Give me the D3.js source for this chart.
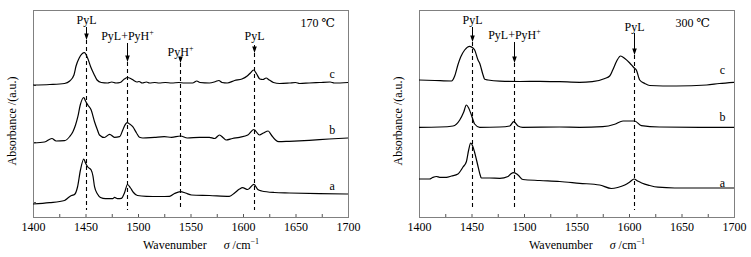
<!DOCTYPE html>
<html>
<head>
<meta charset="utf-8">
<script src="https://cdn.jsdelivr.net/npm/d3@7"></script>
<style>
  body { margin: 0; background: #fff; }
</style>
</head>
<body>
<svg id="chart" width="751" height="257" style="font-family: 'Liberation Serif', 'Times New Roman', Times, 'DejaVu Serif', serif;"></svg>
<script>
// wavenumber axis
const xDomain = [1400, 1700];
const xTicks = d3.range(1400, 1701, 25);
const xTickLabels = [1400, 1450, 1500, 1550, 1600, 1650, 1700];

// spectra at 170 C, [wavenumber, absorbance (a.u.)]
const left_c = [[1400,1.32],[1416,1.325],[1430,1.335],[1435,1.36],[1439,1.42],[1441,1.51],[1444,1.59],[1449,1.643],[1452,1.59],[1455,1.50],[1458,1.43],[1461,1.37],[1465,1.345],[1471,1.34],[1475,1.35],[1479,1.34],[1483,1.345],[1487,1.38],[1490,1.395],[1493,1.385],[1496,1.365],[1499,1.35],[1501,1.355],[1504,1.34],[1508,1.35],[1511,1.34],[1516,1.345],[1520,1.34],[1526,1.345],[1532,1.34],[1539,1.345],[1544,1.34],[1552,1.34],[1556,1.36],[1559,1.345],[1568,1.34],[1574,1.355],[1577,1.365],[1580,1.345],[1585,1.34],[1592,1.365],[1599,1.38],[1604,1.41],[1607,1.44],[1610,1.47],[1613,1.43],[1616,1.38],[1619,1.375],[1622,1.39],[1625,1.37],[1629,1.345],[1635,1.335],[1644,1.34],[1650,1.345],[1654,1.335],[1663,1.34],[1673,1.345],[1683,1.35],[1687,1.34],[1700,1.345]];
const left_b = [[1401,0.74],[1411,0.75],[1418,0.785],[1422,0.76],[1430,0.763],[1435,0.805],[1438,0.853],[1440.5,0.92],[1442.7,1.003],[1445,1.12],[1448.4,1.195],[1450,1.16],[1452.2,1.12],[1455.4,1.07],[1458.6,0.953],[1461.4,0.87],[1463.3,0.82],[1468,0.795],[1473,0.827],[1477.6,0.797],[1482.4,0.803],[1485.5,0.87],[1487.1,0.91],[1489.7,0.943],[1492,0.93],[1495,0.903],[1498.6,0.84],[1501.4,0.797],[1504.6,0.79],[1515.7,0.797],[1525,0.803],[1532,0.797],[1540.5,0.81],[1547,0.79],[1558.6,0.797],[1568,0.797],[1573,0.785],[1577.6,0.82],[1581.4,0.79],[1584,0.77],[1590,0.785],[1596.7,0.797],[1604.6,0.82],[1610.3,0.875],[1615.7,0.82],[1619.5,0.84],[1624,0.86],[1627,0.82],[1631,0.77],[1634,0.753],[1644,0.757],[1663,0.767],[1682,0.78],[1700,0.79]];
const left_a = [[1400,0.13],[1415.7,0.143],[1430,0.165],[1433.8,0.195],[1436.7,0.215],[1439.5,0.225],[1442.4,0.30],[1445.2,0.47],[1448.4,0.58],[1450,0.54],[1452.2,0.50],[1455.4,0.47],[1457.1,0.41],[1458.6,0.303],[1461.4,0.23],[1464.3,0.195],[1469,0.183],[1476,0.183],[1477.6,0.197],[1480.5,0.183],[1484.3,0.187],[1487.1,0.24],[1490,0.325],[1492.9,0.29],[1495.7,0.245],[1499.5,0.215],[1508,0.207],[1520.5,0.205],[1530,0.207],[1534.8,0.235],[1540.5,0.253],[1545.2,0.24],[1551,0.22],[1568,0.215],[1587,0.207],[1592,0.24],[1596.7,0.28],[1599.5,0.293],[1604.6,0.275],[1610.3,0.327],[1614.1,0.275],[1617.8,0.26],[1630,0.245],[1644,0.24],[1673,0.233],[1700,0.23]];

// spectra at 300 C
const right_c = [[1400,1.37],[1415,1.365],[1431,1.36],[1434,1.41],[1437,1.52],[1439.7,1.60],[1443.5,1.67],[1448.3,1.707],[1451.4,1.69],[1453,1.67],[1456.2,1.57],[1457.8,1.537],[1461,1.42],[1462.6,1.377],[1465.7,1.37],[1477,1.358],[1496,1.355],[1515,1.357],[1534,1.353],[1553,1.347],[1565,1.353],[1577,1.385],[1581.6,1.41],[1584.5,1.47],[1588.3,1.56],[1592,1.61],[1596,1.585],[1600.7,1.54],[1604.5,1.495],[1607,1.47],[1610.2,1.37],[1615,1.335],[1619.7,1.315],[1645,1.31],[1674,1.32],[1686,1.335],[1700,1.347]];
const right_b = [[1400,0.897],[1420,0.90],[1432.4,0.91],[1438.8,0.97],[1442.6,1.05],[1445.1,1.12],[1447.3,1.09],[1449.9,1.02],[1453,0.93],[1457.8,0.897],[1477,0.90],[1486.4,0.91],[1490.2,0.953],[1494.3,0.91],[1498.8,0.897],[1534,0.90],[1553,0.897],[1575,0.903],[1586.4,0.927],[1594.3,0.96],[1605.4,0.96],[1611.8,0.913],[1629,0.90],[1667,0.897],[1700,0.897]];
const right_a = [[1400,0.38],[1410,0.38],[1413,0.395],[1416.6,0.405],[1419.7,0.397],[1426,0.397],[1431,0.41],[1437.1,0.43],[1441.9,0.50],[1445.1,0.553],[1447.3,0.67],[1449.2,0.738],[1451.1,0.71],[1453,0.645],[1455.9,0.52],[1457.8,0.437],[1459.4,0.39],[1467.3,0.39],[1477,0.387],[1484.8,0.405],[1487.3,0.43],[1490.5,0.443],[1494.3,0.42],[1499,0.375],[1515,0.365],[1534,0.355],[1553,0.337],[1572,0.32],[1583.2,0.285],[1589.2,0.295],[1596,0.32],[1600.7,0.35],[1604.8,0.38],[1608.3,0.36],[1612.1,0.34],[1619.7,0.315],[1627.6,0.298],[1643.5,0.29],[1700,0.29]];

// band assignments
const left_bands = [1450, 1490, 1540, 1610];
const left_bandNames = ["PyL", "PyL+PyH", "PyH", "PyL"];
const right_bands = [1450, 1490, 1605];
const right_bandNames = ["PyL", "PyL+PyH", "PyL"];
const seriesNames = ["a", "b", "c"];
const temps = ["170 \u2103", "300 \u2103"];

const svg = d3.select("#chart");
const plotW = 315, plotTop = 10, plotBottom = 217;
const serif = "'Liberation Serif', 'Times New Roman', Times, 'DejaVu Serif', serif";

function drawPanel(opt) {
  const x = d3.scaleLinear(xDomain, [opt.left, opt.left + plotW]);
  const y = d3.scaleLinear([0, 2.07], [plotBottom, plotTop]);
  const g = svg.append("g");

  // bottom axis, inward ticks every 25
  g.append("g")
    .attr("transform", `translate(0,${plotBottom})`)
    .call(d3.axisBottom(x).tickValues(xTicks).tickSize(-3).tickPadding(5)
      .tickFormat(d => xTickLabels.includes(d) ? d : ""))
    .attr("font-family", serif)
    .attr("font-size", 12)
    .call(a => a.select(".domain").remove())
    .call(a => a.selectAll(".tick line").attr("stroke", "#555"));

  if (opt.yTicks) {
    g.append("g")
      .attr("transform", `translate(${opt.left},0)`)
      .call(d3.axisLeft(y).tickValues(opt.yTicks).tickSize(-3).tickFormat(""))
      .call(a => a.select(".domain").remove())
      .call(a => a.selectAll(".tick line").attr("stroke", "#555"));
  }

  // frame
  g.append("rect")
    .attr("x", opt.left + 0.5).attr("y", plotTop + 0.5)
    .attr("width", plotW).attr("height", plotBottom - plotTop)
    .attr("fill", "none").attr("stroke", "#808080").attr("stroke-width", 1);

  // spectra
  const line = d3.line().x(d => x(d[0])).y(d => y(d[1])).curve(d3.curveMonotoneX);
  g.selectAll("path.spec")
    .data(opt.series)
    .join("path")
    .attr("class", "spec")
    .attr("d", line)
    .attr("fill", "none")
    .attr("stroke", "#000")
    .attr("stroke-width", 1.2);

  const txt = g.append("g").attr("font-family", serif).attr("font-size", 12).attr("fill", "#000");

  // series labels
  txt.selectAll("text.lab")
    .data(seriesNames)
    .join("text")
    .attr("class", "lab")
    .attr("x", x(opt.labelX))
    .attr("y", (d, i) => y(opt.labelY[i]))
    .attr("text-anchor", "middle")
    .text(d => d);

  // band markers
  opt.bands.forEach((b, i) => {
    const bx = Math.round(x(b)) + 0.5;
    const [ty, a0, a1] = opt.marks[i];
    const name = opt.bandNames[i];
    const t = txt.append("text")
      .attr("x", bx).attr("y", ty)
      .attr("text-anchor", "middle");
    t.append("tspan").text(name);
    if (name.endsWith("PyH")) {
      t.append("tspan").attr("dy", -5).attr("font-size", 8).text("+");
    }
    if (a1 - a0 > 6) {
      g.append("line")
        .attr("x1", bx).attr("x2", bx).attr("y1", a0).attr("y2", a1 - 5)
        .attr("stroke", "#000").attr("stroke-width", 1);
    }
    g.append("path")
      .attr("d", `M${bx - 2.3},${a1 - 6.5}L${bx + 2.3},${a1 - 6.5}L${bx},${a1}Z`)
      .attr("fill", "#000");
    g.append("line")
      .attr("x1", bx).attr("x2", bx).attr("y1", a1).attr("y2", 210)
      .attr("stroke", "#000").attr("stroke-width", 1.1)
      .attr("stroke-dasharray", "4,3");
  });

  // temperature
  txt.append("text")
    .attr("x", opt.left + opt.tempDx).attr("y", 27)
    .attr("text-anchor", "end")
    .text(opt.temp);

  // axis titles
  const xt = txt.append("text")
    .attr("x", opt.left + 110).attr("y", 249);
  xt.append("tspan").text("Wavenumber");
  xt.append("tspan").attr("dx", 17).attr("font-style", "italic").text("\u03c3");
  xt.append("tspan").text(" /cm");
  xt.append("tspan").attr("dy", -5).attr("font-size", 8).text("\u22121");

  txt.append("text")
    .attr("transform", `translate(${opt.left - 17},121) rotate(-90)`)
    .attr("text-anchor", "middle")
    .text("Absorbance /(a.u.)");
}

drawPanel({
  left: 33, series: [left_a, left_b, left_c],
  bands: left_bands, bandNames: left_bandNames,
  marks: [[24, 27, 40], [40, 43, 62], [56, 58, 63], [40, 45, 53]],
  labelX: 1685, labelY: [0.275, 0.83, 1.39],
  yTicks: [0.15, 0.75, 1.32],
  temp: temps[0], tempDx: 302
});
drawPanel({
  left: 419, series: [right_a, right_b, right_c],
  bands: right_bands, bandNames: right_bandNames,
  marks: [[24, 27, 42], [39, 42, 63], [31, 33, 55]],
  labelX: 1689, labelY: [0.303, 0.963, 1.43],
  temp: temps[1], tempDx: 291
});
</script>
</body>
</html>
